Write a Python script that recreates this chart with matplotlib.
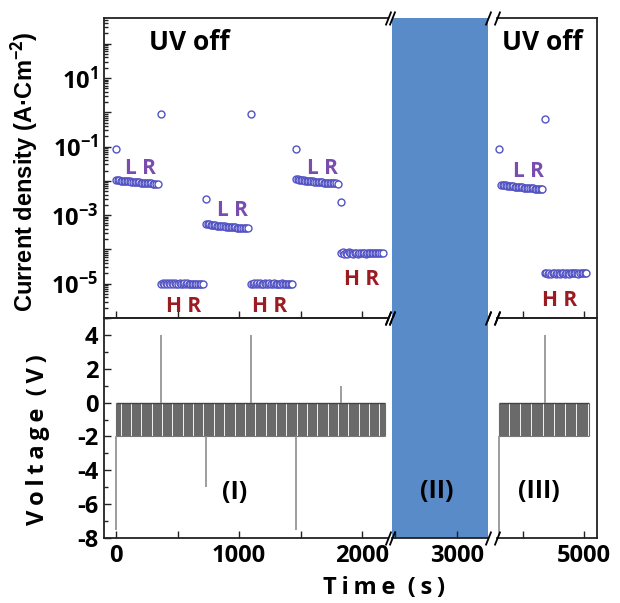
import numpy as np
import matplotlib.pyplot as plt
from matplotlib.ticker import FixedLocator, FuncFormatter, LogLocator, MultipleLocator, NullFormatter

plt.rcParams['font.family'] = ['Open Sans', 'DejaVu Sans']
plt.rcParams['font.weight'] = 'bold'
plt.rcParams['axes.unicode_minus'] = False
plt.rcParams['mathtext.fontset'] = 'custom'
plt.rcParams['mathtext.rm'] = 'Open Sans:bold'
plt.rcParams['mathtext.bf'] = 'Open Sans:bold'
plt.rcParams['mathtext.it'] = 'Open Sans:bold'

# read interval of the current (s)
dt = 12.5

# resistance state blocks: start time (s) and current density at each read
block_start = [0, 366, 732, 1097, 1463, 1829, 4320, 4680]
lr1 = np.array([10.6, 10.5, 10.3, 10.2, 10.1, 10.0, 9.9, 9.8, 9.7, 9.6, 9.5, 9.4, 9.3, 9.2,
                9.1, 9.0, 8.9, 8.85, 8.8, 8.7, 8.6, 8.55, 8.5, 8.4, 8.35, 8.3, 8.2, 8.1]) * 1e-3
hr1 = np.array([1.0, 1.04, 0.97, 1.05, 0.98, 1.02, 0.96, 1.03, 1.0, 1.06, 0.97, 1.01, 1.04, 0.98,
                1.0, 1.03, 0.97, 1.02, 1.0, 0.99, 1.01, 1.0, 0.98, 1.01, 1.0, 0.99, 1.0, 1.0]) * 1e-5
lr2 = np.array([5.6, 5.5, 5.4, 5.3, 5.2, 5.1, 5.0, 4.95, 4.9, 4.85, 4.8, 4.75, 4.7, 4.65,
                4.6, 4.55, 4.5, 4.45, 4.4, 4.38, 4.35, 4.3, 4.27, 4.24, 4.2, 4.17, 4.14, 4.1]) * 1e-4
hr2 = np.array([1.0, 0.97, 1.04, 0.99, 1.05, 0.97, 1.02, 1.0, 0.96, 1.04, 1.01, 0.98, 1.03, 1.0,
                0.97, 1.02, 1.0, 1.01, 0.99, 1.0, 1.02, 0.99, 1.0, 1.01, 1.0, 0.99, 1.0, 1.0]) * 1e-5
lr3 = np.array([11.2, 11.0, 10.8, 10.6, 10.4, 10.3, 10.1, 10.0, 9.9, 9.8, 9.7, 9.6, 9.5, 9.4,
                9.3, 9.2, 9.1, 9.0, 8.95, 8.9, 8.8, 8.75, 8.7, 8.6, 8.55, 8.5, 8.4, 8.3]) * 1e-3
hr3 = np.array([7.8, 8.2, 7.5, 8.0, 7.6, 8.3, 7.7, 7.9, 7.5, 8.1, 7.8, 7.6, 8.0, 7.7,
                7.9, 7.8, 7.6, 8.0, 7.8, 7.7, 7.9, 7.8, 7.8, 7.7, 7.8, 7.9, 7.8, 7.8]) * 1e-5
lr4 = np.array([7.7, 7.6, 7.5, 7.4, 7.3, 7.2, 7.1, 7.0, 6.9, 6.8, 6.75, 6.7, 6.6, 6.5,
                6.45, 6.4, 6.3, 6.25, 6.2, 6.1, 6.05, 6.0, 5.95, 5.9, 5.85, 5.8, 5.75, 5.7]) * 1e-3
hr4 = np.array([2.0, 2.1, 1.94, 2.06, 1.97, 2.1, 2.0, 1.95, 2.05, 2.0, 1.96, 2.04, 2.0, 1.98,
                2.02, 2.0, 1.97, 2.03, 2.0, 1.99, 2.01, 2.0, 1.98, 2.01, 2.0, 2.0, 2.0, 2.0]) * 1e-5
blocks = [lr1, hr1, lr2, hr2, lr3, hr3, lr4, hr4]

# write pulses: time (s), voltage (V), current density during pulse (A/cm2)
spike_t = [0, 366, 732, 1097, 1463, 1829, 4300, 4680]
spike_v = [-7.5, 4, -5, 4, -7.5, 1, -7.9, 4]
spike_j = [8.5e-2, 0.9, 3.0e-3, 0.9, 8.5e-2, 2.4e-3, 8.5e-2, 0.63]

# read pulse train (0 / -2 V)
read_v = -2
comb_start = [0, 4300]
comb_end = [2190, 5040]
comb_step = 9

# broken time axis: three windows
xwin = [(-98, 2211), (2472, 3252), (4287, 5107)]
xpix = [(104, 388), (392, 488), (497, 597)]

W, H = 620, 603
fig = plt.figure(figsize=(W / 100, H / 100), dpi=100)

top_y, mid_y, bot_y = 18, 318, 538
blue = '#588bc8'
mcol = '#5252c4'
lr_col = '#7a4cb0'
hr_col = '#9b1b22'
spine_col = '#222222'

axes_top, axes_bot = [], []
for k, ((x0, x1), (p0, p1)) in enumerate(zip(xwin, xpix)):
    for row in range(2):
        if row == 0:
            rect = [p0 / W, 1 - mid_y / H, (p1 - p0) / W, (mid_y - top_y) / H]
        else:
            rect = [p0 / W, 1 - bot_y / H, (p1 - p0) / W, (bot_y - mid_y) / H]
        ax = fig.add_axes(rect, zorder=0 if k == 1 else 1)
        ax.set_xlim(x0, x1)
        ax.set_facecolor(blue if k == 1 else 'none')
        for s in ax.spines.values():
            s.set_color(spine_col)
            s.set_linewidth(1.3)
        ax.tick_params(direction='in', which='both', colors=spine_col, width=1,
                       labelsize=17, labelcolor='black', pad=4)
        ax.tick_params(which='major', length=5)
        ax.tick_params(which='minor', length=3)
        ax.xaxis.set_major_locator(MultipleLocator(500))
        ax.xaxis.set_major_formatter(FuncFormatter(
            lambda v, p, r=row: '%d' % v if v % 1000 == 0 and r == 1 else ''))
        (axes_top if row == 0 else axes_bot).append(ax)

# spines / ticks per window
for row, axs in enumerate([axes_top, axes_bot]):
    a1, a2, a3 = axs
    a1.spines['right'].set_visible(False)
    a3.spines['left'].set_visible(False)
    for s in ['top', 'left', 'right']:
        a2.spines[s].set_visible(False)
    if row == 0:
        a2.spines['bottom'].set_visible(False)
        a2.tick_params(axis='x', which='both', length=0)
    for a in (a2, a3):
        a.tick_params(axis='y', which='both', left=False, labelleft=False)

# --- current density panel
for a in axes_top:
    a.set_yscale('log')
    a.set_ylim(1e-6, 10 ** 2.75)
a1 = axes_top[0]
a1.yaxis.set_major_locator(FixedLocator([10.0 ** e for e in range(-6, 3)]))
a1.yaxis.set_minor_locator(LogLocator(subs=np.arange(2, 10), numticks=30))
a1.yaxis.set_minor_formatter(NullFormatter())
a1.yaxis.set_major_formatter(FuncFormatter(
    lambda v, p: r'$10^{%d}$' % round(np.log10(v)) if round(np.log10(v)) % 2 else ''))

for t0, vals in zip(block_start, blocks):
    t = t0 + dt * np.arange(len(vals))
    a = axes_top[0] if t0 < 2500 else axes_top[2]
    a.plot(t, vals, 'o', ms=5, mfc='white', mec=mcol, mew=1.0, clip_on=False)
for t, j in zip(spike_t, spike_j):
    a = axes_top[0] if t < 2500 else axes_top[2]
    a.plot(t, j, 'o', ms=5, mfc='white', mec=mcol, mew=1.0, clip_on=False)

lbl = dict(ha='center', va='center', fontsize=15, fontweight='bold')
axes_top[0].text(593, 105, 'UV off', ha='center', va='center', fontsize=19, color='black')
axes_top[2].text(4656, 112, 'UV off', ha='center', va='center', fontsize=19, color='black')
for t, j in [(195, 2.3e-2), (943, 1.4e-3), (1675, 2.3e-2)]:
    axes_top[0].text(t, j, 'L R', color=lr_col, **lbl)
axes_top[2].text(4541, 1.9e-2, 'L R', color=lr_col, **lbl)
for t, j in [(545, 2.1e-6), (1252, 2.1e-6), (2000, 1.3e-5)]:
    axes_top[0].text(t, j, 'H R', color=hr_col, **lbl)
axes_top[2].text(4803, 3.3e-6, 'H R', color=hr_col, **lbl)

# --- voltage panel
for a in axes_bot:
    a.set_ylim(-8, 5)
b1 = axes_bot[0]
b1.yaxis.set_major_locator(MultipleLocator(2))
b1.yaxis.set_minor_locator(MultipleLocator(1))

for k, (c0, c1) in enumerate(zip(comb_start, comb_end)):
    a = axes_bot[0] if k == 0 else axes_bot[2]
    tt = np.arange(c0, c1, comb_step)
    a.vlines(tt, read_v, 0, color='#6a6a6a', lw=0.8)
    a.hlines(0, c0, c1, color='#444444', lw=1.0)
    a.hlines(read_v, c0, c1, color='#777777', lw=0.8)
for t, v in zip(spike_t, spike_v):
    a = axes_bot[0] if t < 2500 else axes_bot[2]
    a.vlines(t, 0 if v > 0 else read_v, v, color='#8c8c8c', lw=1.2)

txt = dict(ha='center', va='center', fontsize=18, color='black')
axes_bot[0].text(967, -5.3, '(I)', **txt)
axes_bot[1].text(2837, -5.25, '(II)', **txt)
axes_bot[2].text(4631, -5.25, '(III)', **txt)

# break marks
brk = dict(marker=[(-0.4, -1), (0.4, 1)], markersize=10, linestyle='none',
           color='k', mec='k', mew=1.3, clip_on=False, zorder=10)
for axs in (axes_top, axes_bot):
    axs[0].plot([1, 1], [0, 1], transform=axs[0].transAxes, **brk)
    axs[1].plot([0, 0, 1, 1], [0, 1, 0, 1], transform=axs[1].transAxes, **brk)
    axs[2].plot([0, 0], [0, 1], transform=axs[2].transAxes, **brk)

# axis titles
fig.text(25 / W, 1 - 172 / H, 'Current density (A\u00b7Cm$^{-2}$)', rotation=90,
         ha='center', va='center', fontsize=17, family='Liberation Sans', weight='bold')
fig.text(38 / W, 1 - 440 / H, 'V\u2009o\u2009l\u2009t\u2009a\u2009g\u2009e  (\u2009V\u2009)', rotation=90,
         ha='center', va='center', fontsize=17)
fig.text(384 / W, 1 - 588 / H, 'T\u2009i\u2009m\u2009e  (\u2009s\u2009)',
         ha='center', va='center', fontsize=17)

fig.savefig('out.png', dpi=100)
